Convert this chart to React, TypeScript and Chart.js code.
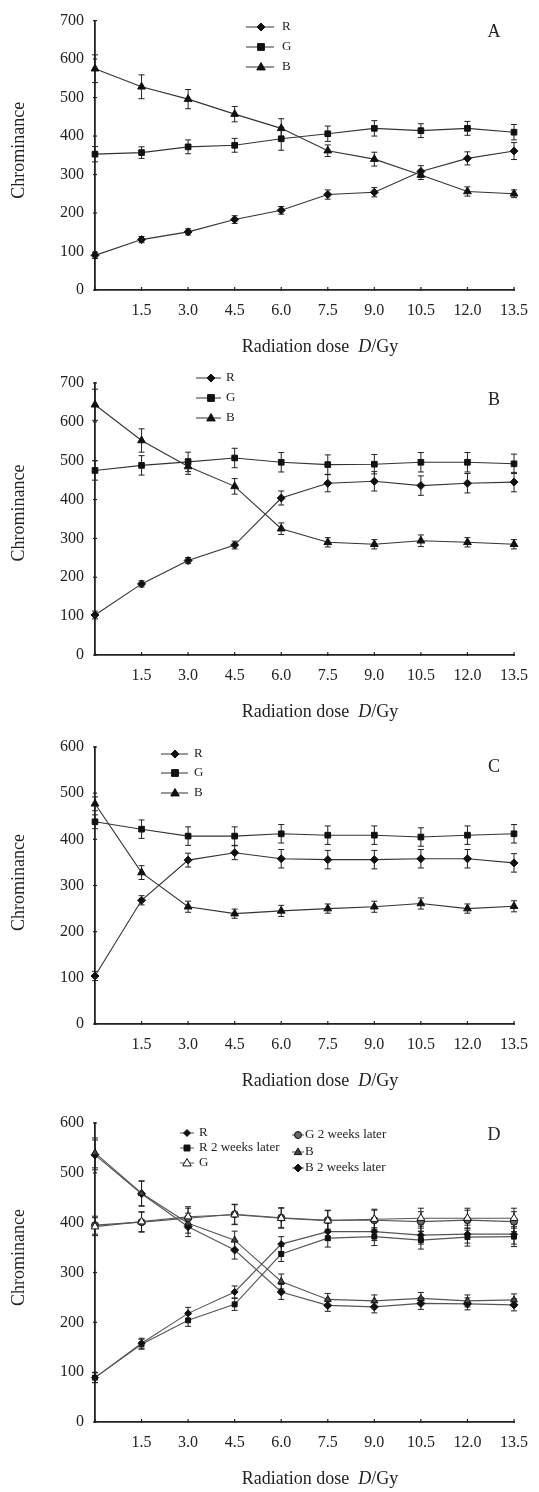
import React, { useEffect, useRef } from "react";
import { Chart, registerables } from "chart.js";
Chart.register(...registerables);

Chart.defaults.font.family = "'Liberation Serif', 'Times New Roman', serif";
Chart.defaults.color = "#222";

// ---------- data ----------
const doses = [0, 1.5, 3, 4.5, 6, 7.5, 9, 10.5, 12, 13.5];
const xTickLabels = ["", "1.5", "3.0", "4.5", "6.0", "7.5", "9.0", "10.5", "12.0", "13.5"];
const namesRGB = ["R", "G", "B"];
const namesD = ["R", "R 2 weeks later", "G", "G 2 weeks later", "B", "B 2 weeks later"];
const panelLetters = ["A", "B", "C", "D"];
const yMaxes = [700, 700, 600, 600];

// Panel A
const aR = [90, 131, 151, 183, 207, 248, 254, 308, 342, 361];
const aRErr = [8, 8, 8, 10, 10, 12, 12, 15, 17, 22];
const aG = [353, 357, 372, 376, 393, 406, 420, 414, 420, 410];
const aGErr = [20, 15, 18, 18, 30, 20, 20, 18, 18, 20];
const aB = [575, 528, 496, 457, 420, 362, 340, 299, 256, 250];
const aBErr = [36, 31, 25, 20, 25, 15, 18, 12, 12, 10];

// Panel B
const bR = [103, 183, 243, 283, 404, 442, 447, 436, 442, 445];
const bRErr = [10, 8, 8, 10, 18, 22, 25, 25, 25, 25];
const bG = [475, 488, 497, 507, 496, 490, 491, 496, 496, 492];
const bGErr = [25, 25, 25, 25, 25, 25, 25, 25, 25, 25];
const bB = [644, 552, 485, 434, 325, 290, 285, 294, 290, 285];
const bBErr = [40, 30, 20, 20, 15, 12, 12, 15, 12, 12];

// Panel C
const cR = [104, 268, 355, 371, 358, 356, 356, 358, 358, 349];
const cRErr = [10, 10, 15, 15, 20, 20, 20, 20, 20, 20];
const cG = [438, 422, 407, 407, 412, 409, 409, 405, 409, 412];
const cGErr = [15, 20, 20, 20, 20, 20, 20, 20, 20, 20];
const cB = [477, 328, 254, 239, 245, 250, 254, 261, 250, 255];
const cBErr = [15, 15, 12, 10, 12, 10, 12, 12, 10, 12];

// Panel D
const dR = [89, 158, 218, 261, 357, 382, 382, 375, 377, 377];
const dR2 = [89, 156, 204, 236, 337, 369, 372, 365, 371, 372];
const dG = [392, 402, 412, 416, 409, 404, 407, 409, 409, 409];
const dG2 = [395, 401, 409, 417, 410, 405, 405, 402, 405, 402];
const dB = [540, 459, 399, 365, 282, 246, 243, 248, 243, 245];
const dB2 = [536, 458, 392, 345, 261, 234, 231, 238, 237, 235];
const dErrR = [10, 10, 12, 12, 15, 18, 18, 18, 18, 20];
const dErrG = [18, 20, 20, 20, 20, 20, 20, 20, 20, 20];
const dErrB = [30, 25, 20, 18, 15, 12, 12, 12, 12, 12];

// ---------- helpers ----------
function pts(vals: number[]) {
  return doses.map((d, i) => ({ x: d, y: vals[i] }));
}

function drawMarker(ctx: CanvasRenderingContext2D, style: string, x: number, y: number, r: number, fill: string, stroke: string) {
  ctx.beginPath();
  if (style === "rect") ctx.rect(x - r * 0.85, y - r * 0.85, r * 1.7, r * 1.7);
  else if (style === "rectRot") {
    ctx.moveTo(x, y - r); ctx.lineTo(x + r, y); ctx.lineTo(x, y + r); ctx.lineTo(x - r, y); ctx.closePath();
  } else if (style === "triangle") {
    ctx.moveTo(x, y - r); ctx.lineTo(x + r * 0.95, y + r * 0.65); ctx.lineTo(x - r * 0.95, y + r * 0.65); ctx.closePath();
  } else ctx.arc(x, y, r, 0, Math.PI * 2);
  ctx.fillStyle = fill; ctx.fill();
  ctx.strokeStyle = stroke; ctx.lineWidth = 1; ctx.stroke();
}

const decorPlugin = {
  id: "decor",
  beforeDatasetsDraw(chart: any) {
    const { ctx } = chart;
    const x = chart.scales.x, y = chart.scales.y;
    chart.data.datasets.forEach((ds: any) => {
      if (!ds.errors) return;
      ctx.save();
      ctx.strokeStyle = ds.errColor || "#222";
      ctx.lineWidth = 1;
      ds.data.forEach((p: any, j: number) => {
        const e = ds.errors[j];
        const px = x.getPixelForValue(p.x);
        const top = y.getPixelForValue(p.y + e);
        const bot = y.getPixelForValue(p.y - e);
        ctx.beginPath();
        ctx.moveTo(px, top); ctx.lineTo(px, bot);
        ctx.moveTo(px - 3, top); ctx.lineTo(px + 3, top);
        ctx.moveTo(px - 3, bot); ctx.lineTo(px + 3, bot);
        ctx.stroke();
      });
      ctx.restore();
    });
  },
  afterDraw(chart: any, _args: any, opts: any) {
    const { ctx, chartArea } = chart;
    const x = chart.scales.x, y = chart.scales.y;
    ctx.save();
    // tick marks
    ctx.strokeStyle = "#222";
    ctx.lineWidth = 1.2;
    x.ticks.forEach((t: any) => {
      const px = x.getPixelForValue(t.value);
      ctx.beginPath(); ctx.moveTo(px, chartArea.bottom - 3); ctx.lineTo(px, chartArea.bottom + 1); ctx.stroke();
    });
    y.ticks.forEach((t: any) => {
      const py = y.getPixelForValue(t.value);
      ctx.beginPath(); ctx.moveTo(chartArea.left - 2, py); ctx.lineTo(chartArea.left + 2, py); ctx.stroke();
    });
    // x title with italic D
    ctx.fillStyle = "#222";
    ctx.textBaseline = "middle";
    const ty = chartArea.bottom + 57;
    const fN = "18px 'Liberation Serif', serif";
    const fI = "italic 18px 'Liberation Serif', serif";
    const parts = [["Radiation dose  ", fN], ["D", fI], ["/Gy", fN]];
    let total = 0;
    parts.forEach(([s, f]) => { ctx.font = f; total += ctx.measureText(s).width; });
    let sx = opts.xTitleX - total / 2;
    ctx.textAlign = "left";
    parts.forEach(([s, f]) => { ctx.font = f; ctx.fillText(s, sx, ty); sx += ctx.measureText(s).width; });
    // y title
    ctx.save();
    ctx.translate(19, (chartArea.top + chartArea.bottom) / 2 + opts.yTitleOffset);
    ctx.rotate(-Math.PI / 2);
    ctx.textAlign = "center";
    ctx.font = "18px 'Liberation Serif', serif";
    ctx.fillText("Chrominance", 0, 0);
    ctx.restore();
    // panel letter
    ctx.textAlign = "center";
    ctx.font = "18px 'Liberation Serif', serif";
    ctx.fillText(opts.letter, opts.letterX, opts.letterY);
    // legend
    ctx.font = "13px 'Liberation Serif', serif";
    opts.legend.forEach((it: any) => {
      const ds = chart.data.datasets[it.ds];
      ctx.strokeStyle = ds.borderColor;
      ctx.lineWidth = 1;
      ctx.beginPath(); ctx.moveTo(it.x0, it.y); ctx.lineTo(it.x1, it.y); ctx.stroke();
      drawMarker(ctx, ds.pointStyle, it.mx, it.y, ds.pointRadius, ds.pointBackgroundColor, ds.pointBorderColor);
      ctx.fillStyle = "#222";
      ctx.textAlign = "left";
      ctx.fillText(ds.label, it.lx, it.y);
    });
    ctx.restore();
  },
};

function ds(label: string, vals: number[], errs: number[], style: string, r: number, fill: string, line: string) {
  return {
    label,
    data: pts(vals),
    errors: errs,
    errColor: "#222",
    borderColor: line,
    borderWidth: 1.1,
    pointStyle: style,
    pointRadius: r,
    pointBackgroundColor: fill,
    pointBorderColor: "#111",
    pointBorderWidth: 1,
    clip: false,
    tension: 0,
  };
}

type PanelSpec = {
  top: number;
  height: number;
  padTop: number;
  xHeight: number;
  yMax: number;
  datasets: any[];
  letter: string;
  letterY: number;
  yTitleOffset: number;
  legend: any[];
};

const lineC = "#333";
const panels: PanelSpec[] = [
  {
    top: 0, height: 360, padTop: 16, xHeight: 70, yMax: yMaxes[0], letter: panelLetters[0], letterY: 32, yTitleOffset: -5,
    datasets: [
      ds(namesRGB[0], aR, aRErr, "rectRot", 4, "#111", lineC),
      ds(namesRGB[1], aG, aGErr, "rect", 4, "#111", lineC),
      ds(namesRGB[2], aB, aBErr, "triangle", 4.5, "#111", lineC),
    ],
    legend: [
      { ds: 0, x0: 246, x1: 274, mx: 261, lx: 282, y: 27 },
      { ds: 1, x0: 246, x1: 274, mx: 261, lx: 282, y: 47 },
      { ds: 2, x0: 246, x1: 274, mx: 261, lx: 282, y: 67 },
    ],
  },
  {
    top: 360, height: 365, padTop: 23, xHeight: 70, yMax: yMaxes[1], letter: panelLetters[1], letterY: 40, yTitleOffset: -6,
    datasets: [
      ds(namesRGB[0], bR, bRErr, "rectRot", 4, "#111", lineC),
      ds(namesRGB[1], bG, bGErr, "rect", 4, "#111", lineC),
      ds(namesRGB[2], bB, bBErr, "triangle", 4.5, "#111", lineC),
    ],
    legend: [
      { ds: 0, x0: 196, x1: 221, mx: 211, lx: 226, y: 18 },
      { ds: 1, x0: 196, x1: 221, mx: 211, lx: 226, y: 38 },
      { ds: 2, x0: 196, x1: 221, mx: 211, lx: 226, y: 58 },
    ],
  },
  {
    top: 725, height: 370, padTop: 22, xHeight: 71, yMax: yMaxes[2], letter: panelLetters[2], letterY: 42, yTitleOffset: -3,
    datasets: [
      ds(namesRGB[0], cR, cRErr, "rectRot", 4, "#111", lineC),
      ds(namesRGB[1], cG, cGErr, "rect", 4, "#111", lineC),
      ds(namesRGB[2], cB, cBErr, "triangle", 4.5, "#111", lineC),
    ],
    legend: [
      { ds: 0, x0: 161, x1: 188, mx: 175, lx: 194, y: 29 },
      { ds: 1, x0: 161, x1: 188, mx: 175, lx: 194, y: 48 },
      { ds: 2, x0: 161, x1: 188, mx: 175, lx: 194, y: 68 },
    ],
  },
  {
    top: 1095, height: 397, padTop: 28, xHeight: 70, yMax: yMaxes[3], letter: panelLetters[3], letterY: 40, yTitleOffset: -15,
    datasets: [
      ds(namesD[0], dR, dErrR, "rectRot", 3.5, "#111", "#555"),
      ds(namesD[1], dR2, dErrR, "rect", 3.5, "#111", "#555"),
      ds(namesD[2], dG, dErrG, "triangle", 4.5, "#fff", "#555"),
      ds(namesD[3], dG2, dErrG, "circle", 3.5, "#666", "#555"),
      ds(namesD[4], dB, dErrB, "triangle", 4, "#444", "#555"),
      ds(namesD[5], dB2, dErrB, "rectRot", 4, "#111", "#555"),
    ],
    legend: [
      { ds: 0, x0: 180, x1: 194, mx: 187, lx: 199, y: 38 },
      { ds: 1, x0: 180, x1: 194, mx: 187, lx: 199, y: 53 },
      { ds: 2, x0: 180, x1: 194, mx: 187, lx: 199, y: 68 },
      { ds: 3, x0: 292, x1: 304, mx: 298, lx: 305, y: 40 },
      { ds: 4, x0: 292, x1: 304, mx: 298, lx: 305, y: 57 },
      { ds: 5, x0: 292, x1: 304, mx: 298, lx: 305, y: 73 },
    ],
  },
];

function Panel({ spec }: { spec: PanelSpec }) {
  const ref = useRef<HTMLCanvasElement | null>(null);
  useEffect(() => {
    if (!ref.current) return;
    const chart = new Chart(ref.current, {
      type: "line",
      data: { datasets: spec.datasets as any },
      plugins: [decorPlugin as any],
      options: {
        animation: false,
        responsive: true,
        maintainAspectRatio: false,
        layout: { padding: { top: spec.padTop, right: 16, left: 0, bottom: 0 } },
        plugins: {
          legend: { display: false },
          tooltip: { enabled: false },
          decor: {
            letter: spec.letter,
            letterX: 494,
            letterY: spec.letterY,
            xTitleX: 320,
            yTitleOffset: spec.yTitleOffset,
            legend: spec.legend,
          },
        } as any,
        scales: {
          x: {
            type: "linear",
            min: 0,
            max: 13.5,
            afterBuildTicks: (s: any) => { s.ticks = doses.map((v) => ({ value: v })); },
            afterFit: (s: any) => { s.height = spec.xHeight; },
            grid: { display: true, drawOnChartArea: false, drawTicks: false },
            border: { display: true, color: "#222", width: 1.8 },
            ticks: {
              autoSkip: false,
              maxRotation: 0,
              padding: 11,
              font: { size: 16 },
              color: "#222",
              callback: (_v: any, i: number) => xTickLabels[i],
            },
          },
          y: {
            type: "linear",
            min: 0,
            max: spec.yMax,
            afterFit: (s: any) => { s.width = 95; },
            grid: { display: true, drawOnChartArea: false, drawTicks: false },
            border: { display: true, color: "#222", width: 1.8 },
            ticks: { stepSize: 100, padding: 11, font: { size: 16 }, color: "#222" },
          },
        },
      },
    });
    return () => chart.destroy();
  }, [spec]);
  return (
    <div style={{ position: "absolute", left: 0, top: spec.top, width: 539, height: spec.height }}>
      <canvas ref={ref} />
    </div>
  );
}

export default function App() {
  return (
    <div style={{ position: "absolute", left: 0, top: 0, width: 539, height: 1492, background: "#fff" }}>
      {panels.map((p, i) => (
        <Panel key={i} spec={p} />
      ))}
    </div>
  );
}
